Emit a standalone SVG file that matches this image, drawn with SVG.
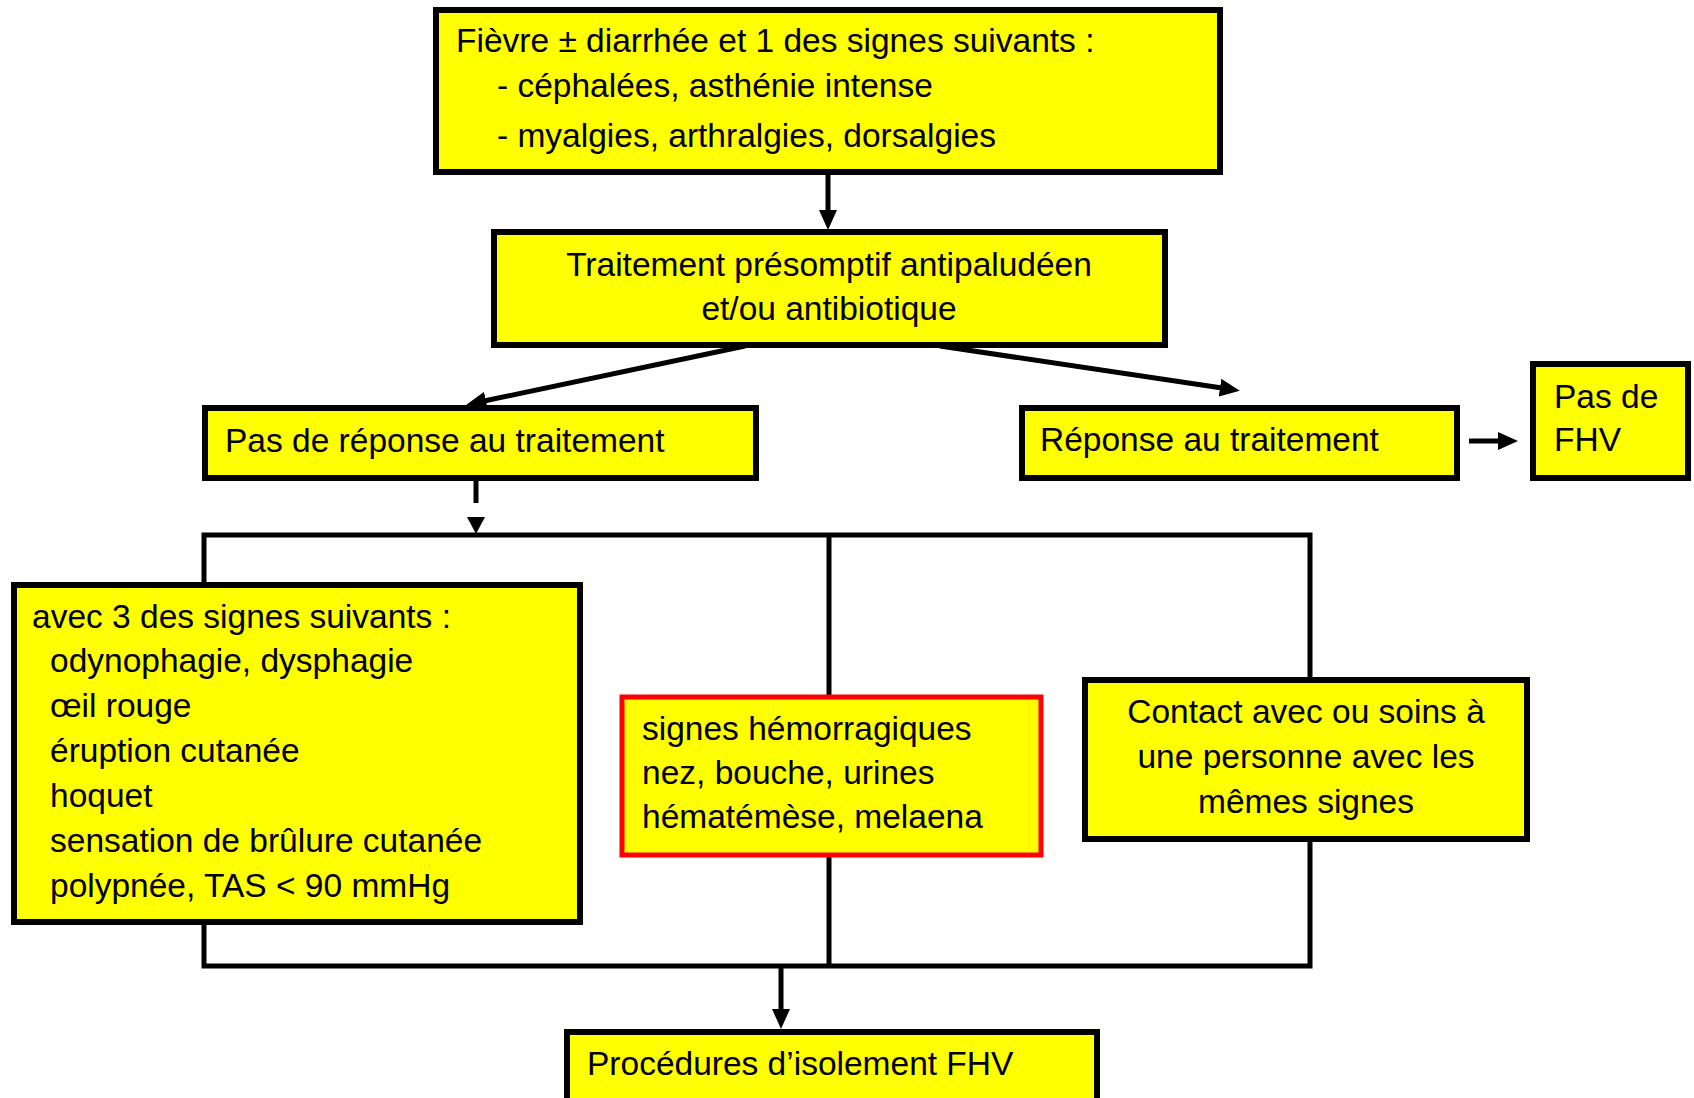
<svg xmlns="http://www.w3.org/2000/svg" width="1694" height="1098" viewBox="0 0 1694 1098">
<defs>
<marker id="ah" markerUnits="userSpaceOnUse" markerWidth="20" markerHeight="18" refX="2" refY="9" orient="auto">
<path d="M0,0 L20,9 L0,18 z" fill="#000"/>
</marker>
<style>
.box{fill:#ffff00;stroke:#000;stroke-width:6}
.red{fill:#ffff00;stroke:#ff0000;stroke-width:5}
.t{font-family:"Liberation Sans",Arial,sans-serif;font-size:33.5px;fill:#000}
.c{text-anchor:middle}
.ln{stroke:#000;stroke-width:5;fill:none}
.ar{stroke:#000;stroke-width:5;fill:none;marker-end:url(#ah)}
</style>
</defs>
<rect width="1694" height="1098" fill="#fff"/>
<g id="connectors">
<line class="ar" x1="828" y1="174" x2="828" y2="212"/>
<line class="ar" x1="745" y1="346" x2="484" y2="401"/>
<line class="ar" x1="940" y1="346" x2="1222" y2="388"/>
<line class="ar" x1="1469" y1="441" x2="1500" y2="441"/>
<line class="ln" x1="476" y1="473" x2="476" y2="503"/>
<path d="M467,517 L485,517 L476,534 z" fill="#000"/>
<path class="ln" d="M204,583 V535 H1310 V678"/>
<line class="ln" x1="829" y1="535" x2="829" y2="695"/>
<path class="ln" d="M204,923 V966 H1310 V840"/>
<line class="ln" x1="829" y1="856" x2="829" y2="966"/>
<line class="ar" x1="781" y1="966" x2="781" y2="1011"/>
</g>
<g id="n1">
<rect class="box" x="436" y="10" width="784" height="162"/>
<text class="t" x="456" y="52">Fièvre ± diarrhée et 1 des signes suivants :</text>
<text class="t" x="497" y="97">- céphalées, asthénie intense</text>
<text class="t" x="497" y="147">- myalgies, arthralgies, dorsalgies</text>
</g>
<g id="n2">
<rect class="box" x="494" y="232" width="671" height="113"/>
<text class="t c" x="829" y="276">Traitement présomptif antipaludéen</text>
<text class="t c" x="829" y="320">et/ou antibiotique</text>
</g>
<g id="n3">
<rect class="box" x="205" y="408" width="551" height="70"/>
<text class="t" x="225" y="452">Pas de réponse au traitement</text>
</g>
<g id="n4">
<rect class="box" x="1022" y="408" width="435" height="70"/>
<text class="t" x="1040" y="451">Réponse au traitement</text>
</g>
<g id="n5">
<rect class="box" x="1533" y="364" width="155" height="114"/>
<text class="t" x="1554" y="408">Pas de</text>
<text class="t" x="1554" y="451">FHV</text>
</g>
<g id="n6">
<rect class="box" x="14" y="585" width="566" height="337"/>
<text class="t" x="32" y="628">avec 3 des signes suivants :</text>
<text class="t" x="50" y="672">odynophagie, dysphagie</text>
<text class="t" x="50" y="717">œil rouge</text>
<text class="t" x="50" y="762">éruption cutanée</text>
<text class="t" x="50" y="807">hoquet</text>
<text class="t" x="50" y="852">sensation de brûlure cutanée</text>
<text class="t" x="50" y="897">polypnée, TAS &lt; 90 mmHg</text>
</g>
<g id="n7">
<rect class="red" x="622" y="697" width="419" height="158"/>
<text class="t" x="642" y="740">signes hémorragiques</text>
<text class="t" x="642" y="784">nez, bouche, urines</text>
<text class="t" x="642" y="828">hématémèse, melaena</text>
</g>
<g id="n8">
<rect class="box" x="1085" y="680" width="442" height="159"/>
<text class="t c" x="1306" y="723">Contact avec ou soins à</text>
<text class="t c" x="1306" y="768">une personne avec les</text>
<text class="t c" x="1306" y="813">mêmes signes</text>
</g>
<g id="n9">
<rect class="box" x="567" y="1032" width="530" height="80"/>
<text class="t" x="587" y="1075">Procédures d’isolement FHV</text>
</g>
</svg>
